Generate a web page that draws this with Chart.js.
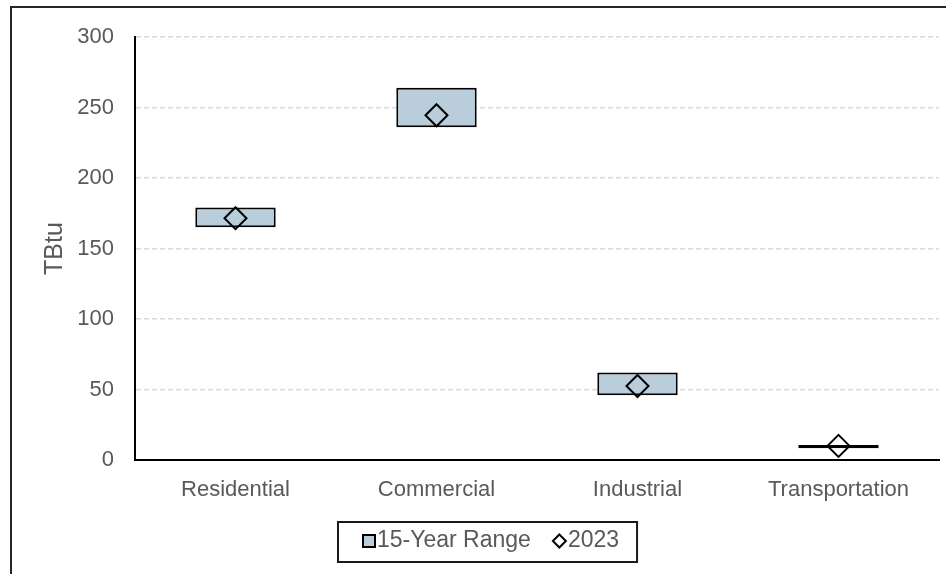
<!DOCTYPE html>
<html>
<head>
<meta charset="utf-8">
<script src="https://cdn.jsdelivr.net/npm/chart.js@4/dist/chart.umd.min.js"></script>
<style>
  html, body { margin: 0; padding: 0; background: #ffffff; }
  #wrap { width: 946px; height: 574px; position: relative; }
</style>
</head>
<body>
<div id="wrap"><canvas id="chart" width="946" height="574"></canvas></div>
<script>
// Energy use by sector (TBtu): 15-year min/max range and the 2023 value
const categories = ['Residential', 'Commercial', 'Industrial', 'Transportation'];
const rangeLow   = [165, 236, 46, 8.3];
const rangeHigh  = [179, 264, 62, 10.6];
const values2023 = [171.5, 244.5, 52.5, 10];
const yTicks     = [0, 50, 100, 150, 200, 250, 300];
const seriesNames = ['15-Year Range', '2023'];

const TEXT = '#595959';
const FONT = '"Liberation Sans", Arial, sans-serif';
const RANGE_FILL = '#b9cddb';

// Outer frame around the whole chart
const framePlugin = {
  id: 'frame',
  beforeDraw(chart) {
    const ctx = chart.ctx;
    ctx.save();
    ctx.fillStyle = '#ffffff';
    ctx.fillRect(0, 0, chart.width, chart.height);
    ctx.strokeStyle = '#262626';
    ctx.lineWidth = 2;
    ctx.strokeRect(11, 7, chart.width + 20, chart.height + 20);
    ctx.restore();
  }
};

// Boxed legend drawn under the category labels
const boxLegendPlugin = {
  id: 'boxLegend',
  afterDraw(chart) {
    const ctx = chart.ctx;
    const ds = chart.data.datasets;
    ctx.save();
    ctx.font = '23px ' + FONT;
    ctx.textBaseline = 'middle';
    const w1 = ctx.measureText(ds[0].label).width;
    const w2 = ctx.measureText(ds[1].label).width;
    const sq = 12, dia = 13, gapIcon = 2, gapItem = 22;
    const total = sq + gapIcon + w1 + gapItem + dia + gapIcon + w2;
    const cy = 541;
    let x = 363;

    // frame
    ctx.strokeStyle = '#1a1a1a';
    ctx.lineWidth = 2;
    ctx.strokeRect(x - 25, cy - 19, total + 25 + 18, 40);

    // range swatch
    ctx.fillStyle = ds[0].backgroundColor;
    ctx.fillRect(x, cy - sq / 2, sq, sq);
    ctx.strokeStyle = '#000';
    ctx.lineWidth = 2;
    ctx.strokeRect(x, cy - sq / 2, sq, sq);
    x += sq + gapIcon;
    ctx.fillStyle = TEXT;
    ctx.fillText(ds[0].label, x, cy);
    x += w1 + gapItem;

    // diamond
    const r = dia / 2;
    ctx.beginPath();
    ctx.moveTo(x + r, cy - r);
    ctx.lineTo(x + dia, cy);
    ctx.lineTo(x + r, cy + r);
    ctx.lineTo(x, cy);
    ctx.closePath();
    ctx.strokeStyle = '#000';
    ctx.lineWidth = 2;
    ctx.stroke();
    x += dia + gapIcon;
    ctx.fillStyle = TEXT;
    ctx.fillText(ds[1].label, x, cy);
    ctx.restore();
  }
};

new Chart(document.getElementById('chart'), {
  data: {
    labels: categories,
    datasets: [
      {
        type: 'bar',
        label: seriesNames[0],
        data: rangeLow.map((lo, i) => [lo, rangeHigh[i]]),
        backgroundColor: RANGE_FILL,
        borderColor: '#000000',
        borderWidth: 2,
        borderSkipped: false,
        categoryPercentage: 1.0,
        barPercentage: 0.4,
        order: 1
      },
      {
        type: 'line',
        label: seriesNames[1],
        data: values2023,
        showLine: false,
        pointStyle: 'rectRot',
        pointRadius: 11,
        pointHoverRadius: 11,
        pointBorderWidth: 2,
        pointBorderColor: '#000000',
        pointBackgroundColor: 'rgba(0,0,0,0)',
        borderColor: '#000000',
        order: 0
      }
    ]
  },
  options: {
    responsive: false,
    animation: false,
    events: [],
    layout: { autoPadding: false, padding: { left: 0, right: 7, top: 37, bottom: 64 } },
    plugins: {
      legend: { display: false },
      tooltip: { enabled: false },
      title: { display: false }
    },
    scales: {
      x: {
        type: 'category',
        offset: true,
        grid: {
          display: true,
          drawOnChartArea: false,
          drawTicks: true,
          tickLength: 17,
          tickColor: 'rgba(0,0,0,0)'
        },
        border: { display: true, color: '#000000', width: 2 },
        ticks: { color: TEXT, font: { family: FONT, size: 22 }, padding: 0, maxRotation: 0 },
        afterFit(scale) { scale.height = 50; }
      },
      y: {
        type: 'linear',
        min: 0,
        max: 300,
        afterBuildTicks(scale) { scale.ticks = yTicks.map(v => ({ value: v })); },
        grid: { color: '#d9d9d9', lineWidth: 1.5, drawTicks: false },
        border: { display: true, color: '#000000', width: 2, dash: [5, 3] },
        ticks: { color: TEXT, font: { family: FONT, size: 22 }, padding: 21 },
        title: {
          display: true,
          text: 'TBtu',
          color: TEXT,
          font: { family: FONT, size: 25 },
          padding: { top: 40, bottom: 0 }
        },
        afterFit(scale) { scale.width = 135; }
      }
    }
  },
  plugins: [framePlugin, boxLegendPlugin]
});
</script>
</body>
</html>
